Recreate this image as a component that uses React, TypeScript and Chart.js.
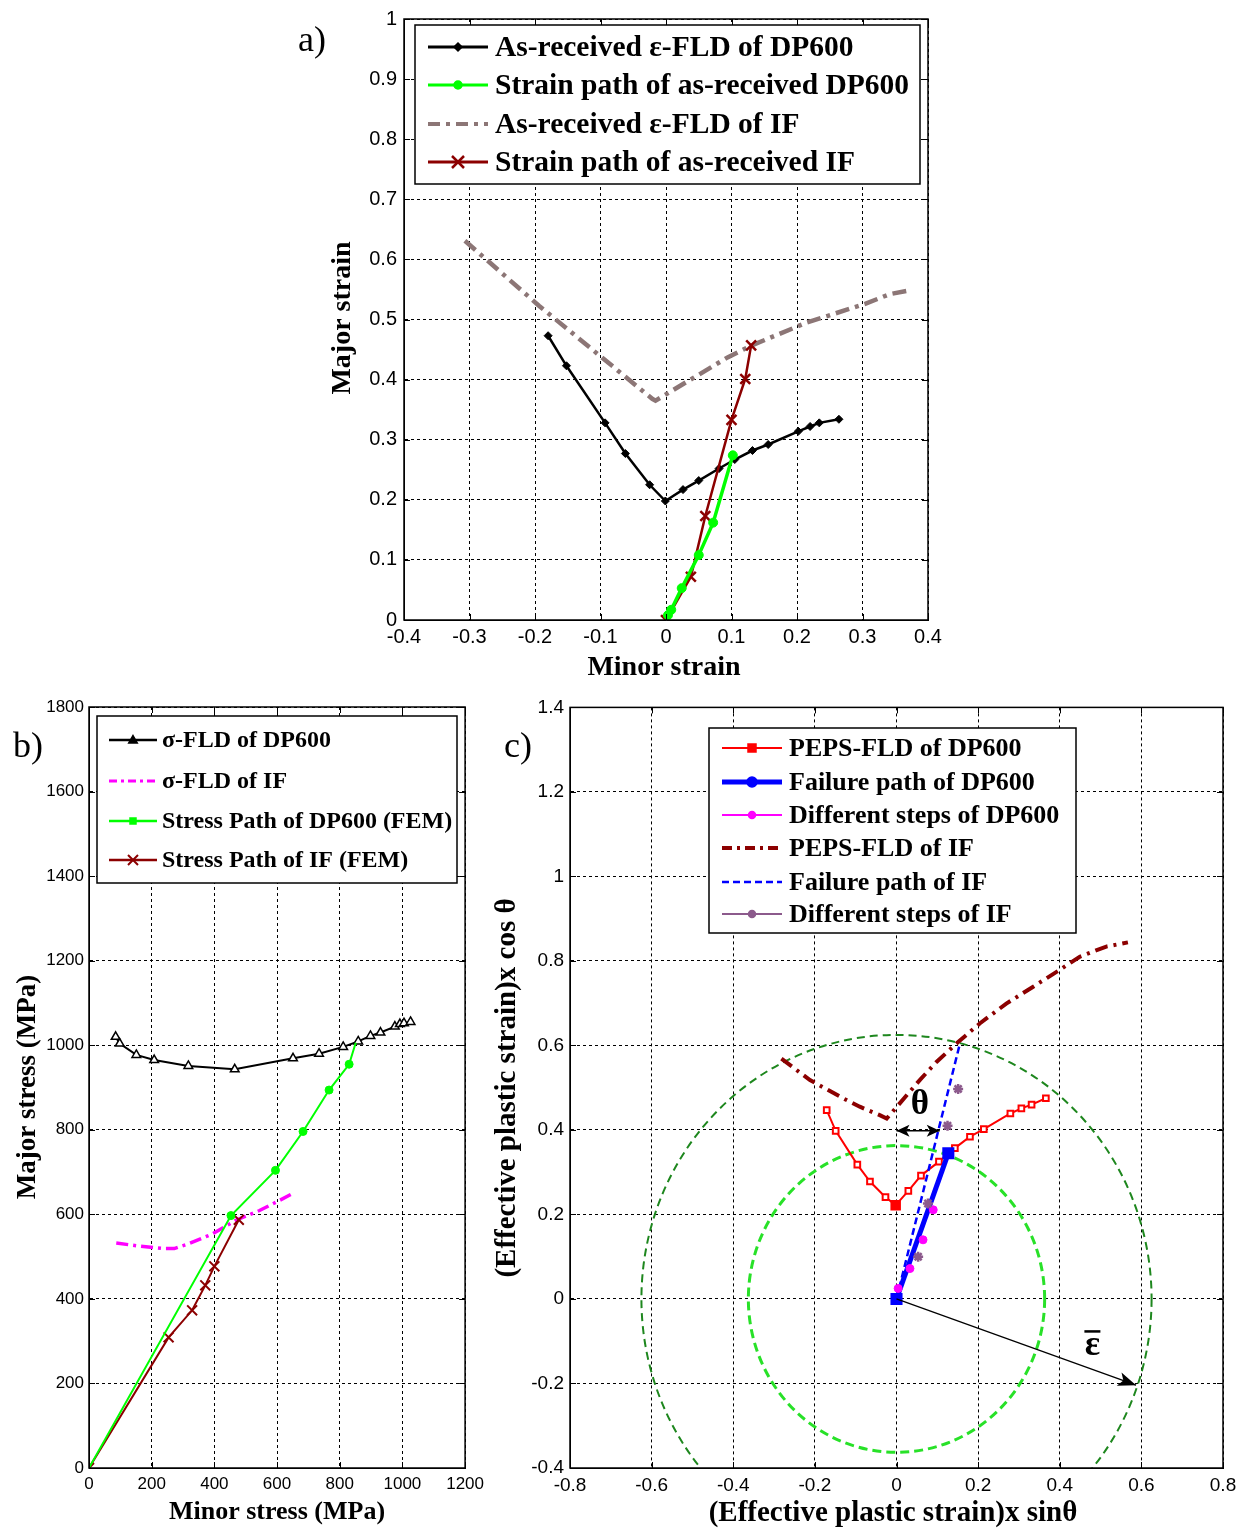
import React, { useEffect, useRef } from 'react';
import { Chart, registerables } from 'chart.js';
Chart.register(...registerables);

const SERIF = '"Liberation Serif", "Times New Roman", serif';
const SANS = '"Liberation Sans Narrow", "Liberation Sans", Arial, sans-serif';

// ---------------- Panel a) : strain FLD ----------------
const aDp600FldX = [-0.180, -0.152, -0.093, -0.062, -0.025, -0.001, 0.026, 0.050, 0.081, 0.105, 0.132, 0.156, 0.202, 0.220, 0.234, 0.264];
const aDp600FldY = [0.473, 0.423, 0.328, 0.277, 0.225, 0.198, 0.217, 0.232, 0.252, 0.267, 0.282, 0.292, 0.314, 0.322, 0.328, 0.334];
const aDp600PathX = [0.003, 0.008, 0.024, 0.050, 0.072, 0.102];
const aDp600PathY = [0.008, 0.017, 0.053, 0.108, 0.162, 0.274];
const aIfFldX = [-0.307, -0.194, -0.021, -0.016, 0.094, 0.131, 0.215, 0.304, 0.341, 0.370];
const aIfFldY = [0.631, 0.523, 0.368, 0.365, 0.437, 0.457, 0.495, 0.526, 0.542, 0.548];
const aIfPathX = [0, 0.038, 0.060, 0.100, 0.121, 0.130];
const aIfPathY = [0, 0.072, 0.173, 0.333, 0.401, 0.457];
const aXRange = [-0.4, 0.4, 0.1];
const aYRange = [0, 1, 0.1];
const aLegendLabels = ['As-received ε-FLD of DP600', 'Strain path of as-received DP600', 'As-received ε-FLD of IF', 'Strain path of as-received IF'];

// ---------------- Panel b) : stress FLD (MPa) ----------------
const bDpSigmaX = [85, 98, 151, 208, 317, 465, 651, 734, 811, 859, 898, 930, 976, 992, 1005, 1026];
const bDpSigmaY = [1020, 1004, 977, 965, 951, 943, 969, 980, 996, 1009, 1022, 1030, 1044, 1050, 1052, 1055];
const bIfSigmaX = [87, 160, 240, 272, 320, 395, 469, 544, 608, 649];
const bIfSigmaY = [532, 525, 519, 519, 531, 554, 586, 609, 633, 649];
const bDpPathX = [0, 453, 595, 683, 766, 830, 851];
const bDpPathY = [0, 597, 704, 796, 894, 955, 1006];
const bIfPathX = [0, 254, 329, 371, 400, 478];
const bIfPathY = [0, 309, 373, 432, 477, 587];
const bXRange = [0, 1200, 200];
const bYRange = [0, 1800, 200];
const bLegendLabels = ['σ-FLD of DP600', 'σ-FLD of IF', 'Stress Path of DP600 (FEM)', 'Stress Path of IF (FEM)'];

// ---------------- Panel c) : PEPS-FLD ----------------
const cDpPepsX = [-0.171, -0.149, -0.096, -0.065, -0.027, -0.002, 0.029, 0.060, 0.104, 0.143, 0.180, 0.214, 0.279, 0.306, 0.331, 0.366];
const cDpPepsY = [0.447, 0.398, 0.318, 0.278, 0.241, 0.222, 0.256, 0.292, 0.325, 0.357, 0.384, 0.402, 0.439, 0.451, 0.460, 0.475];
const cDpFailX = [0, 0.127];
const cDpFailY = [0, 0.345];
const cDpStepsX = [0.004, 0.033, 0.065, 0.090];
const cDpStepsY = [0.025, 0.072, 0.140, 0.211];
const cIfPepsX = [-0.282, -0.212, -0.131, -0.090, -0.041, -0.024, 0.008, 0.057, 0.098, 0.151, 0.204, 0.269, 0.335, 0.400, 0.449, 0.514, 0.567];
const cIfPepsY = [0.569, 0.518, 0.475, 0.455, 0.435, 0.427, 0.463, 0.518, 0.561, 0.608, 0.652, 0.699, 0.739, 0.779, 0.810, 0.834, 0.844];
const cIfFailX = [0, 0.155];
const cIfFailY = [0, 0.603];
const cIfStepsX = [0.053, 0.077, 0.125, 0.151];
const cIfStepsY = [0.100, 0.226, 0.410, 0.497];
const cCircleRadii = [0.625, 0.363];
const cEpsArrowEnd = [0.587, -0.204];
const cEpsLabelAt = [0.48, -0.133];
const cThetaLabelAt = [0.057, 0.458];
const cThetaArrowX = [0.0, 0.106];
const cThetaArrowY = [0.398];
const cXRange = [-0.8, 0.8, 0.2];
const cYRange = [-0.4, 1.4, 0.2];
const cLegendLabels = ['PEPS-FLD of DP600', 'Failure path of DP600', 'Different steps of DP600', 'PEPS-FLD of IF', 'Failure path of IF', 'Different steps of IF'];

// ---------------- helpers ----------------
const pts = (xs: number[], ys: number[]) => xs.map((x, i) => ({ x, y: ys[i] }));
const DARKRED = 'rgb(140,0,0)';

function drawMarker(ctx: CanvasRenderingContext2D, style: string, x: number, y: number, r: number, color: string, fill: string, lw: number) {
  ctx.save();
  ctx.setLineDash([]);
  ctx.lineWidth = lw;
  ctx.strokeStyle = color;
  ctx.fillStyle = fill;
  ctx.beginPath();
  if (style === 'circle') {
    ctx.arc(x, y, r, 0, Math.PI * 2); ctx.fill(); ctx.stroke();
  } else if (style === 'diamond') {
    ctx.moveTo(x, y - r); ctx.lineTo(x + r, y); ctx.lineTo(x, y + r); ctx.lineTo(x - r, y); ctx.closePath(); ctx.fill(); ctx.stroke();
  } else if (style === 'square') {
    ctx.rect(x - r, y - r, 2 * r, 2 * r); ctx.fill(); ctx.stroke();
  } else if (style === 'triangle') {
    ctx.moveTo(x, y - r); ctx.lineTo(x + r * 0.95, y + r * 0.65); ctx.lineTo(x - r * 0.95, y + r * 0.65); ctx.closePath(); ctx.fill(); ctx.stroke();
  } else if (style === 'x') {
    ctx.moveTo(x - r, y - r); ctx.lineTo(x + r, y + r); ctx.moveTo(x + r, y - r); ctx.lineTo(x - r, y + r); ctx.stroke();
  }
  ctx.restore();
}

type LegendItem = { color: string; lw: number; dash?: number[]; marker?: string; mr?: number; mfill?: string; mlw?: number };
type Spec = {
  name: string;
  cv: { left: number; top: number; width: number; height: number };
  area: { left: number; top: number; right: number; bottom: number };
  xr: number[]; yr: number[];
  tickSize: number; xPad: number; yPad: number;
  datasets: any[];
  xTitle: { text: string; x: number; y: number; size: number };
  yTitle: { text: string; x: number; y: number; size: number };
  panel: { text: string; x: number; y: number; size: number };
  legend: { box: number[]; rows: number[]; sample: number[]; textX: number; size: number; labels: string[]; items: LegendItem[] };
  before?: (chart: any, ctx: CanvasRenderingContext2D) => void;
  after?: (chart: any, ctx: CanvasRenderingContext2D) => void;
};

function fmt(v: any) {
  const n = Math.round(Number(v) * 1000) / 1000;
  return String(n === 0 ? 0 : n);
}

function makeChart(canvas: HTMLCanvasElement, spec: Spec) {
  const { cv, area } = spec;
  const ox = cv.left, oy = cv.top;
  const yW = area.left - cv.left;
  const xH = cv.top + cv.height - area.bottom;
  const tickFont = { family: SANS, size: spec.tickSize };
  const grid = { color: '#000', lineWidth: 1, drawTicks: false };
  const border = { display: true, color: '#000', width: 1, dash: [3, 3] };

  const decor = {
    id: 'decor_' + spec.name,
    beforeDatasetsDraw(chart: any) {
      if (spec.before) spec.before(chart, chart.ctx);
    },
    afterDatasetsDraw(chart: any) {
      if (spec.after) spec.after(chart, chart.ctx);
    },
    afterDraw(chart: any) {
      const ctx: CanvasRenderingContext2D = chart.ctx;
      const { left, top, right, bottom } = chart.chartArea;
      const xs = chart.scales.x, ys = chart.scales.y;
      ctx.save();
      ctx.setLineDash([]);
      ctx.strokeStyle = '#000';
      ctx.lineWidth = 1.5;
      ctx.strokeRect(left, top, right - left, bottom - top);
      ctx.lineWidth = 1;
      const tl = 6;
      ctx.beginPath();
      for (const t of xs.ticks) {
        const px = Math.round(xs.getPixelForValue(t.value)) + 0.5;
        ctx.moveTo(px, bottom); ctx.lineTo(px, bottom - tl);
        ctx.moveTo(px, top); ctx.lineTo(px, top + tl);
      }
      for (const t of ys.ticks) {
        const py = Math.round(ys.getPixelForValue(t.value)) + 0.5;
        ctx.moveTo(left, py); ctx.lineTo(left + tl, py);
        ctx.moveTo(right, py); ctx.lineTo(right - tl, py);
      }
      ctx.stroke();

      // axis titles
      ctx.fillStyle = '#000';
      ctx.textAlign = 'center';
      ctx.textBaseline = 'middle';
      ctx.font = `bold ${spec.xTitle.size}px ${SERIF}`;
      ctx.fillText(spec.xTitle.text, spec.xTitle.x - ox, spec.xTitle.y - oy);
      ctx.save();
      ctx.translate(spec.yTitle.x - ox, spec.yTitle.y - oy);
      ctx.rotate(-Math.PI / 2);
      ctx.font = `bold ${spec.yTitle.size}px ${SERIF}`;
      ctx.fillText(spec.yTitle.text, 0, 0);
      ctx.restore();

      // panel letter
      ctx.font = `${spec.panel.size}px ${SERIF}`;
      ctx.fillText(spec.panel.text, spec.panel.x - ox, spec.panel.y - oy);

      // legend
      const L = spec.legend;
      const [bx, by, bw, bh] = L.box;
      ctx.fillStyle = '#fff';
      ctx.fillRect(bx - ox, by - oy, bw, bh);
      ctx.strokeStyle = '#000';
      ctx.lineWidth = 1.5;
      ctx.strokeRect(bx - ox, by - oy, bw, bh);
      ctx.font = `bold ${L.size}px ${SERIF}`;
      ctx.textAlign = 'left';
      L.items.forEach((it, i) => {
        const ry = L.rows[i] - oy;
        ctx.save();
        ctx.strokeStyle = it.color;
        ctx.lineWidth = it.lw;
        ctx.setLineDash(it.dash || []);
        ctx.beginPath();
        ctx.moveTo(L.sample[0] - ox, ry);
        ctx.lineTo(L.sample[1] - ox, ry);
        ctx.stroke();
        ctx.restore();
        if (it.marker) {
          drawMarker(ctx, it.marker, (L.sample[0] + L.sample[1]) / 2 - ox, ry, it.mr || 4, it.color, it.mfill || it.color, it.mlw || 1.5);
        }
        ctx.fillStyle = '#000';
        ctx.fillText(L.labels[i], L.textX - ox, ry + 1);
      });
      ctx.restore();
    },
  };

  return new Chart(canvas, {
    type: 'line',
    data: { datasets: spec.datasets },
    options: {
      responsive: false,
      maintainAspectRatio: false,
      animation: false,
      events: [],
      layout: { padding: { left: 0, top: area.top - cv.top, right: cv.left + cv.width - area.right, bottom: 0 } },
      plugins: { legend: { display: false }, tooltip: { enabled: false } },
      scales: {
        x: {
          type: 'linear', min: spec.xr[0], max: spec.xr[1],
          afterFit: (s: any) => { s.height = xH; },
          ticks: { stepSize: spec.xr[2], autoSkip: false, maxRotation: 0, color: '#000', font: tickFont, padding: spec.xPad, callback: fmt },
          grid, border,
        },
        y: {
          type: 'linear', min: spec.yr[0], max: spec.yr[1],
          afterFit: (s: any) => { s.width = yW; },
          ticks: { stepSize: spec.yr[2], autoSkip: false, color: '#000', font: tickFont, padding: spec.yPad, callback: fmt },
          grid, border,
        },
      },
    } as any,
    plugins: [decor as any],
  });
}

// ---------------- specs ----------------
const specA: Spec = {
  name: 'a',
  cv: { left: 280, top: 0, width: 670, height: 690 },
  area: { left: 404, top: 16, right: 928, bottom: 620 },
  xr: aXRange, yr: aYRange, tickSize: 20, xPad: 5, yPad: 7,
  datasets: [
    { data: pts(aDp600PathX, aDp600PathY), borderColor: '#00ff00', backgroundColor: '#00ff00', borderWidth: 3.5, pointStyle: 'circle', pointRadius: 4.5, pointBackgroundColor: '#00ff00', pointBorderColor: '#00ff00', pointBorderWidth: 1 },
    { data: pts(aIfPathX, aIfPathY), borderColor: DARKRED, backgroundColor: DARKRED, borderWidth: 2.5, pointStyle: 'crossRot', pointRadius: 7, pointBorderColor: DARKRED, pointBorderWidth: 2.5 },
    { data: pts(aDp600FldX, aDp600FldY), borderColor: '#000', backgroundColor: '#000', borderWidth: 2.5, pointStyle: 'rectRot', pointRadius: 4, pointBackgroundColor: '#000', pointBorderColor: '#000', pointBorderWidth: 1 },
    { data: pts(aIfFldX, aIfFldY), borderColor: 'rgb(140,118,118)', backgroundColor: 'rgb(140,118,118)', borderWidth: 4.5, borderDash: [14, 6, 4, 6], pointRadius: 0 },
  ],
  xTitle: { text: 'Minor strain', x: 664, y: 668, size: 28 },
  yTitle: { text: 'Major strain', x: 343, y: 318, size: 28 },
  panel: { text: 'a)', x: 312, y: 42, size: 36 },
  legend: {
    box: [415, 25, 505, 159], rows: [47, 85, 124, 162], sample: [428, 488], textX: 495, size: 29.5, labels: aLegendLabels,
    items: [
      { color: '#000', lw: 3, marker: 'diamond', mr: 4 },
      { color: '#00ff00', lw: 3, marker: 'circle', mr: 4 },
      { color: 'rgb(140,118,118)', lw: 4, dash: [12, 6, 4, 6] },
      { color: DARKRED, lw: 3, marker: 'x', mr: 6, mlw: 2.5 },
    ],
  },
};

const specB: Spec = {
  name: 'b',
  cv: { left: 0, top: 690, width: 490, height: 840 },
  area: { left: 89, top: 707, right: 466, bottom: 1468 },
  xr: bXRange, yr: bYRange, tickSize: 17, xPad: 6, yPad: 5,
  datasets: [
    { data: pts(bDpPathX, bDpPathY), borderColor: '#00ff00', backgroundColor: '#00ff00', borderWidth: 2, pointStyle: 'circle', pointRadius: [0, 4, 4, 4, 4, 4, 0], pointBackgroundColor: '#00ff00', pointBorderColor: '#00ff00', pointBorderWidth: 1 },
    { data: pts(bIfPathX, bIfPathY), borderColor: DARKRED, backgroundColor: DARKRED, borderWidth: 2, pointStyle: 'crossRot', pointRadius: 7, pointBorderColor: DARKRED, pointBorderWidth: 2 },
    { data: pts(bDpSigmaX, bDpSigmaY), borderColor: '#000', backgroundColor: '#fff', borderWidth: 2, pointStyle: 'triangle', pointRadius: 5, pointBackgroundColor: '#fff', pointBorderColor: '#000', pointBorderWidth: 1.5 },
    { data: pts(bIfSigmaX, bIfSigmaY), borderColor: '#ff00ff', backgroundColor: '#ff00ff', borderWidth: 3.5, borderDash: [12, 5, 3, 5], pointRadius: 0 },
  ],
  xTitle: { text: 'Minor stress (MPa)', x: 277, y: 1512, size: 26 },
  yTitle: { text: 'Major stress (MPa)', x: 28, y: 1087, size: 27 },
  panel: { text: 'b)', x: 28, y: 748, size: 36 },
  legend: {
    box: [97, 716, 360, 167], rows: [740, 781, 821, 860], sample: [109, 157], textX: 162, size: 24, labels: bLegendLabels,
    items: [
      { color: '#000', lw: 2.5, marker: 'triangle', mr: 4.5 },
      { color: '#ff00ff', lw: 3, dash: [8, 4, 3, 4] },
      { color: '#00ff00', lw: 2.5, marker: 'square', mr: 3 },
      { color: DARKRED, lw: 2.5, marker: 'x', mr: 5, mlw: 2 },
    ],
  },
};

function arrowHead(ctx: CanvasRenderingContext2D, x0: number, y0: number, x1: number, y1: number, len: number, hw: number) {
  const a = Math.atan2(y1 - y0, x1 - x0);
  const bx = x1 - len * Math.cos(a), by = y1 - len * Math.sin(a);
  ctx.beginPath();
  ctx.moveTo(x1, y1);
  ctx.lineTo(bx + hw * Math.sin(a), by - hw * Math.cos(a));
  ctx.lineTo(bx + len * 0.25 * Math.cos(a), by + len * 0.25 * Math.sin(a));
  ctx.lineTo(bx - hw * Math.sin(a), by + hw * Math.cos(a));
  ctx.closePath();
  ctx.fill();
}

const specC: Spec = {
  name: 'c',
  cv: { left: 490, top: 690, width: 754, height: 840 },
  area: { left: 570, top: 707, right: 1223, bottom: 1468 },
  xr: cXRange, yr: cYRange, tickSize: 19, xPad: 6, yPad: 6,
  datasets: [
    { data: pts(cIfStepsX, cIfStepsY), showLine: false, borderColor: 'rgb(140,90,140)', backgroundColor: 'rgb(140,90,140)', pointStyle: 'star', pointRadius: 5, pointBorderColor: 'rgb(140,90,140)', pointBorderWidth: 2.5 },
    { data: pts(cDpStepsX, cDpStepsY), showLine: false, borderColor: '#ff00ff', backgroundColor: '#ff00ff', pointStyle: 'circle', pointRadius: 4, pointBackgroundColor: '#ff00ff', pointBorderColor: '#ff00ff' },
    { data: pts(cDpFailX, cDpFailY), borderColor: '#0000ff', backgroundColor: '#0000ff', borderWidth: 5, pointStyle: 'rect', pointRadius: 5, pointBackgroundColor: '#0000ff', pointBorderColor: '#0000ff' },
    { data: pts(cIfFailX, cIfFailY), borderColor: '#0000ff', backgroundColor: '#0000ff', borderWidth: 2.5, borderDash: [7, 4], pointRadius: 0 },
    { data: pts(cDpPepsX, cDpPepsY), borderColor: '#ff0000', backgroundColor: '#ff0000', borderWidth: 2, pointStyle: 'rect', pointRadius: [4, 4, 4, 4, 4, 6, 4, 4, 4, 4, 4, 4, 4, 4, 4, 4], pointBackgroundColor: ['#fff', '#fff', '#fff', '#fff', '#fff', '#ff0000', '#fff', '#fff', '#fff', '#fff', '#fff', '#fff', '#fff', '#fff', '#fff', '#fff'], pointBorderColor: '#ff0000', pointBorderWidth: 2 },
    { data: pts(cIfPepsX, cIfPepsY), borderColor: DARKRED, backgroundColor: DARKRED, borderWidth: 4, borderDash: [13, 6, 3, 6], pointRadius: 0 },
  ],
  xTitle: { text: '(Effective plastic strain)x sinθ', x: 893, y: 1514, size: 29 },
  yTitle: { text: '(Effective plastic strain)x cos θ', x: 508, y: 1088, size: 29 },
  panel: { text: 'c)', x: 518, y: 748, size: 36 },
  legend: {
    box: [709, 728, 367, 205], rows: [748, 782, 815, 848, 882, 914], sample: [722, 782], textX: 789, size: 26, labels: cLegendLabels,
    items: [
      { color: '#ff0000', lw: 2, marker: 'square', mr: 4 },
      { color: '#0000ff', lw: 5, marker: 'circle', mr: 5 },
      { color: '#ff00ff', lw: 2, marker: 'circle', mr: 3.5 },
      { color: DARKRED, lw: 4, dash: [10, 5, 3, 5] },
      { color: '#0000ff', lw: 2.5, dash: [7, 4] },
      { color: 'rgb(140,90,140)', lw: 2, marker: 'circle', mr: 3.5 },
    ],
  },
  before: (chart, ctx) => {
    const xs = chart.scales.x, ys = chart.scales.y;
    const { left, top, right, bottom } = chart.chartArea;
    const cx = xs.getPixelForValue(0), cy = ys.getPixelForValue(0);
    const styles = [
      { color: 'rgb(30,135,30)', lw: 2, dash: [8, 5] },
      { color: 'rgb(40,225,40)', lw: 3, dash: [9, 5] },
    ];
    ctx.save();
    ctx.beginPath();
    ctx.rect(left, top, right - left, bottom - top);
    ctx.clip();
    cCircleRadii.forEach((r, i) => {
      const rx = xs.getPixelForValue(r) - cx;
      const ry = cy - ys.getPixelForValue(r);
      ctx.strokeStyle = styles[i].color;
      ctx.lineWidth = styles[i].lw;
      ctx.setLineDash(styles[i].dash);
      ctx.beginPath();
      ctx.ellipse(cx, cy, rx, ry, 0, 0, Math.PI * 2);
      ctx.stroke();
    });
    ctx.restore();
  },
  after: (chart, ctx) => {
    const xs = chart.scales.x, ys = chart.scales.y;
    ctx.save();
    ctx.setLineDash([]);
    ctx.strokeStyle = '#000';
    ctx.fillStyle = '#000';
    // effective strain arrow
    const x0 = xs.getPixelForValue(0), y0 = ys.getPixelForValue(0);
    const x1 = xs.getPixelForValue(cEpsArrowEnd[0]), y1 = ys.getPixelForValue(cEpsArrowEnd[1]);
    ctx.lineWidth = 1.3;
    ctx.beginPath(); ctx.moveTo(x0, y0); ctx.lineTo(x1, y1); ctx.stroke();
    arrowHead(ctx, x0, y0, x1, y1, 18, 7);
    // epsilon-bar label (baseline anchored)
    const ex = xs.getPixelForValue(cEpsLabelAt[0]), ey = ys.getPixelForValue(cEpsLabelAt[1]);
    ctx.font = `bold 36px ${SERIF}`;
    ctx.textAlign = 'center';
    ctx.textBaseline = 'alphabetic';
    ctx.fillText('ε', ex, ey);
    ctx.fillRect(ex - 8, ey - 25, 16, 2.5);
    // theta
    const tx = xs.getPixelForValue(cThetaLabelAt[0]), ty = ys.getPixelForValue(cThetaLabelAt[1]);
    ctx.textBaseline = 'middle';
    ctx.font = `bold 35px ${SERIF}`;
    ctx.fillText('θ', tx, ty);
    const ax0 = xs.getPixelForValue(cThetaArrowX[0]), ax1 = xs.getPixelForValue(cThetaArrowX[1]);
    const ay = ys.getPixelForValue(cThetaArrowY[0]);
    ctx.lineWidth = 1.5;
    ctx.beginPath(); ctx.moveTo(ax0, ay); ctx.lineTo(ax1, ay); ctx.stroke();
    arrowHead(ctx, ax1, ay, ax0, ay, 13, 6);
    arrowHead(ctx, ax0, ay, ax1, ay, 13, 6);
    ctx.restore();
  },
};

export default function App() {
  const refA = useRef<HTMLCanvasElement>(null);
  const refB = useRef<HTMLCanvasElement>(null);
  const refC = useRef<HTMLCanvasElement>(null);

  useEffect(() => {
    document.body.style.margin = '0';
    const charts: Chart[] = [];
    if (refA.current) charts.push(makeChart(refA.current, specA));
    if (refB.current) charts.push(makeChart(refB.current, specB));
    if (refC.current) charts.push(makeChart(refC.current, specC));
    return () => charts.forEach((c) => c.destroy());
  }, []);

  const cs = (s: Spec): React.CSSProperties => ({ position: 'absolute', left: s.cv.left, top: s.cv.top, width: s.cv.width, height: s.cv.height });

  return (
    <div style={{ position: 'absolute', left: 0, top: 0, width: 1244, height: 1530, background: '#fff', overflow: 'hidden' }}>
      <canvas ref={refA} width={specA.cv.width} height={specA.cv.height} style={cs(specA)} />
      <canvas ref={refB} width={specB.cv.width} height={specB.cv.height} style={cs(specB)} />
      <canvas ref={refC} width={specC.cv.width} height={specC.cv.height} style={cs(specC)} />
    </div>
  );
}
